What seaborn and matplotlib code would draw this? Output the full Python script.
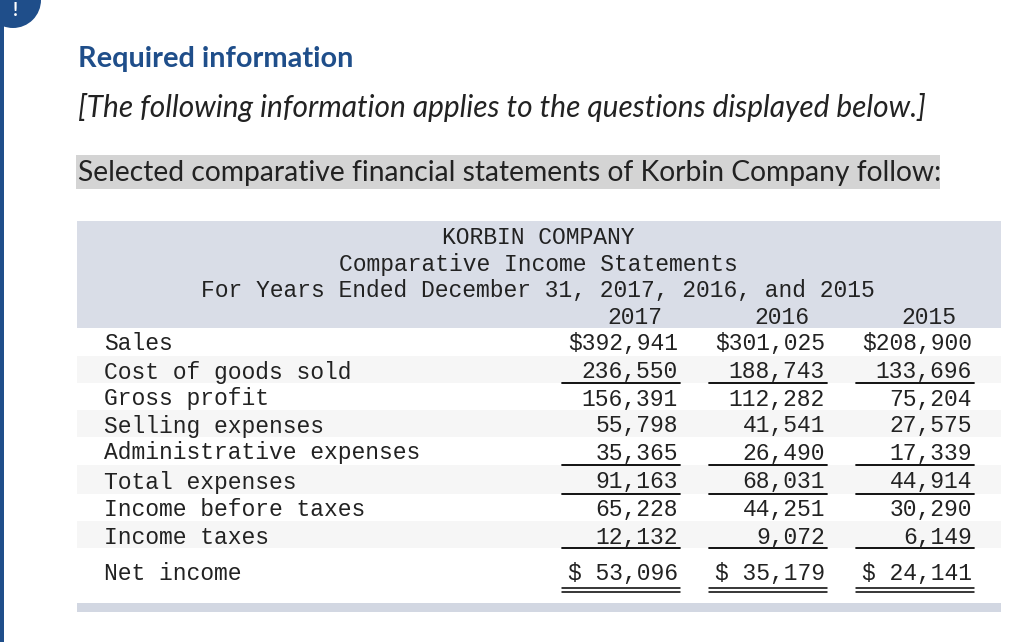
import numpy as np
import matplotlib.pyplot as plt
import seaborn as sns
from matplotlib.patches import Rectangle, Circle

sns.set_theme(style="white")
plt.rcParams['font.family'] = ['Lato', 'DejaVu Sans']

# table data
years = ["2017", "2016", "2015"]
labels = ["Sales", "Cost of goods sold", "Gross profit", "Selling expenses",
          "Administrative expenses", "Total expenses", "Income before taxes",
          "Income taxes", "Net income"]
y2017 = [392941, 236550, 156391, 55798, 35365, 91163, 65228, 12132, 53096]
y2016 = [301025, 188743, 112282, 41541, 26490, 68031, 44251, 9072, 35179]
y2015 = [208900, 133696, 75204, 27575, 17339, 44914, 30290, 6149, 24141]
header = ["KORBIN COMPANY", "Comparative Income Statements",
          "For Years Ended December 31, 2017, 2016, and 2015"]
underlined = [1, 4, 5, 7]   # rows with a single rule below
double_ruled = [8]

blue = "#1f4e8a"
txt = "#222222"
mono = "Liberation Mono"

fig = plt.figure(figsize=(10.24, 6.42), dpi=100)
ax = fig.add_axes([0, 0, 1, 1])
ax.set_xlim(0, 1024)
ax.set_ylim(642, 0)
ax.axis("off")

# left marker
ax.add_patch(Rectangle((0, 0), 4, 642, color=blue, lw=0))
ax.add_patch(Circle((13, 0), 28, color=blue, lw=0))
ax.text(15, 1.5, "!", color="white", fontsize=13, fontweight="bold",
        ha="center", va="top")

ax.text(78, 59, "Required information", color=blue, fontsize=20.8,
        fontweight="bold", va="center")
ax.text(78, 107, "[The following information applies to the questions displayed below.]",
        color=txt, fontsize=21.5, style="italic", va="center")
ax.add_patch(Rectangle((76, 155), 864, 34, color="#d4d4d4", lw=0))
ax.text(78, 173, "Selected comparative financial statements of Korbin Company follow:",
        color=txt, fontsize=20.3, va="center")

# table background
ax.add_patch(Rectangle((77, 221), 924, 107, color="#d9dde7", lw=0))
row_y = [344, 372, 399, 426, 453, 482, 510, 537, 574]
row_top = [328, 356, 383, 410, 437, 465, 494, 521, 548]
row_bot = [356, 383, 410, 437, 465, 494, 521, 548, 600]
for i in range(len(labels)):
    if i % 2 == 1:
        ax.add_patch(Rectangle((77, row_top[i]), 924, row_bot[i] - row_top[i],
                               color="#f6f6f6", lw=0))
ax.add_patch(Rectangle((77, 603), 924, 9, color="#d2d7e2", lw=0))

for j, line in enumerate(header):
    ax.text(538, 237.5 + j * 26.5, line, family=mono, fontsize=16.6, color=txt,
            ha="center", va="center")

col_right = [678, 825, 972]
for c, yr in enumerate(years):
    ax.text(col_right[c] - 16, 318, yr, family=mono, fontsize=16.6, color=txt,
            ha="right", va="center")

cols = [y2017, y2016, y2015]
for i, lab in enumerate(labels):
    ax.text(104, row_y[i], lab, family=mono, fontsize=16.6, color=txt, va="center")
    for c, vals in enumerate(cols):
        v = vals[i]
        s = f"${v:>7,}" if i in (0, len(labels) - 1) else f"{v:,}"
        ax.text(col_right[c], row_y[i], s, family=mono, fontsize=16.6, color=txt,
                ha="right", va="center")
        x0, x1 = col_right[c] - 116, col_right[c] + 2
        if i in underlined:
            ax.plot([x0, x1], [row_bot[i], row_bot[i]], color="black", lw=1.3)
        if i in double_ruled:
            ax.plot([x0, x1], [588, 588], color="black", lw=1.1)
            ax.plot([x0, x1], [591.5, 591.5], color="black", lw=1.1)

fig.savefig("out.png", dpi=100)
